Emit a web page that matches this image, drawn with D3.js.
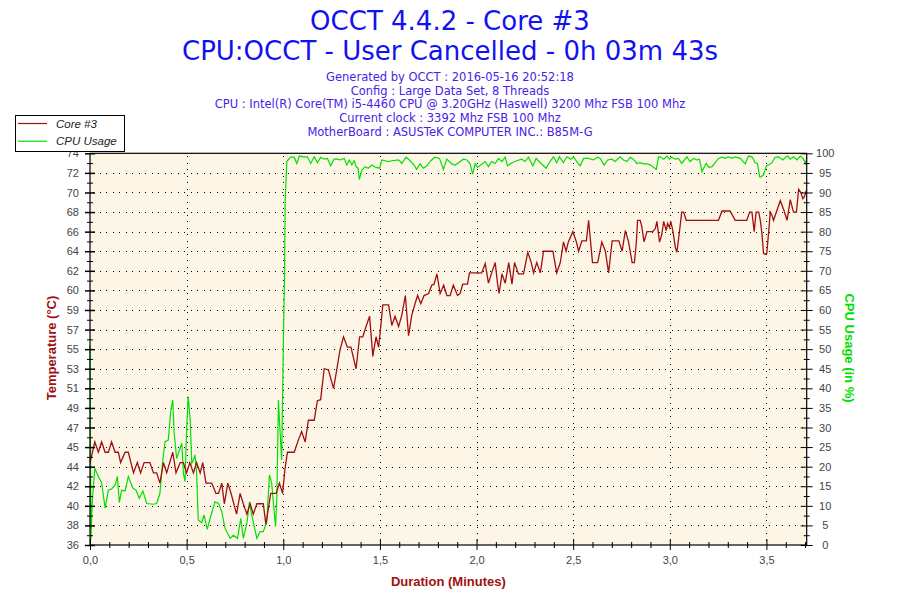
<!DOCTYPE html>
<html>
<head>
<meta charset="utf-8">
<script src="https://cdn.jsdelivr.net/npm/d3@7/dist/d3.min.js"></script>
<style>
  body { margin: 0; background: #fff; }
</style>
</head>
<body>
<svg id="chart"></svg>
<script>
// [seconds, °C]
var coreTemp = [
  [0,44],[1.5,46],[2.6,45],[3.6,46],[4.7,45],[5.7,45],[6.7,46],[7.8,45],[8.8,45],[9.5,44],
  [10.9,45],[11.9,45],[13.5,43],[14.7,44],[15.7,43],[16.8,44],[18.6,44],[19.7,43],[20.7,43],[21.7,42],
  [22.8,44],[23.8,43],[25.7,45],[26.7,43],[28,44],[29,44],[30,43],[31,44],[32.1,43],[33.1,44],
  [34.2,43],[35,44],[36,42],[37.8,42],[39.1,41],[39.9,41],[40.9,42],[41.7,40],[42.8,42],[43.8,41],
  [45.5,39],[46.6,41],[47.6,40],[48.7,39],[49.7,40],[50.7,39],[51.8,40],[53.8,40],[54.6,38],[56.1,41],
  [57.8,41],[58.8,42],[59.8,41],[60.5,43.3],[61.3,45],[63.4,45],[64.7,46.2],[65.7,47],[66.8,46],[67.8,48.1],
  [69.6,48.1],[70.6,50],[71.6,50.1],[72.7,53.1],[74,53],[75.6,51.2],[76.6,53],[77.6,54.9],[78.7,56.2],[79.9,55.2],
  [81,55.2],[82.6,53.1],[83.7,56.2],[84.7,56.2],[85.7,57.2],[86.8,58.2],[87.8,54.3],[88.8,56.2],[89.6,55.2],[90.3,57.3],
  [90.9,59.3],[92.7,59.3],[93.7,57.3],[94.7,58.2],[95.8,57.2],[96.8,58.3],[97.9,60.2],[98.9,56.3],[99.9,58.3],[100.9,59.4],
  [101.7,60.2],[102.7,59.4],[103.7,60.2],[105.1,60.4],[106.1,61.2],[106.8,61.3],[107.7,62.3],[108.7,60.4],[109.8,61.2],[110.8,60.2],
  [111.8,60.2],[112.8,61.2],[114.1,60.2],[114.9,60.4],[115.7,61.3],[117.2,61.3],[117.8,62.4],[121.6,62.4],[122.7,63.3],[123.7,61.4],
  [124.7,62.4],[125.8,63.4],[126.5,61.4],[127,60.4],[127.9,62.3],[128.9,61.4],[130,63.4],[131,61.3],[131.8,63.4],[133,62.3],
  [134.6,62.3],[135.9,64.4],[137,63.4],[137.7,62.4],[138.7,63.4],[139.8,62.4],[140.8,64.5],[143.7,64.5],[144.9,62.4],[146,63.4],
  [147,65.4],[147.8,64.5],[148.5,65.4],[149.9,66.4],[150.9,65.5],[151.7,64.5],[152.7,65.5],[154.1,65.5],[154.8,67.5],[156,63.4],
  [157.6,63.4],[158.9,65.4],[160,64.5],[161,62.4],[162.1,65.5],[164.2,65.5],[165.2,64.5],[166.2,66.5],[167.2,65.4],[168.3,63.4],
  [169,63.4],[169.6,65.3],[170,67.5],[170.8,67.5],[171.3,66.9],[172,65.4],[172.9,66.4],[173.7,66.4],[174.7,66.4],[175.5,66.7],
  [176,67.4],[176.8,65.4],[177.5,66.1],[178.1,67.4],[178.9,66.5],[179.3,67.2],[179.9,66.8],[180.3,67.4],[181,66.4],[181.7,64.9],
  [182.2,64.4],[183,66.4],[183.7,68.3],[184.3,68.3],[185.1,67.5],[195.1,67.5],[196.2,68.4],[198.7,68.4],[200.3,67.5],[203.9,67.5],
  [204.8,68.3],[205.5,68.3],[206.2,66.4],[206.8,68.3],[207.6,68.3],[208.1,67.5],[208.6,66.2],[209.1,64.3],[209.6,64.2],[210.1,64.3],
  [210.7,66.4],[211.2,68.3],[211.7,68],[212.2,67.5],[213.3,68.5],[214.3,69.4],[215.4,68.5],[216.4,67.5],[217.4,69.5],[218.4,68.3],
  [219.3,68.3],[220,70.5],[220.7,70.2],[221.3,69.6],[221.8,69.8],[222.4,70.4]
];

// [seconds, %]
var cpuUsage = [
  [0,51],[0.3,1.5],[0.7,11],[1.5,19.6],[2.6,17.5],[3.6,15.9],[4.7,9.4],[5.7,14],[6.7,14.3],[7.8,15.3],
  [8.5,17.5],[9.1,10.8],[9.8,14],[10.9,13.8],[11.9,17.5],[13.3,14.5],[14.3,14],[15.3,11.9],[16.4,13.8],[17.6,10.6],
  [19.7,10.4],[20.7,10.6],[21.7,13.2],[22.6,21.7],[23.3,26.4],[24.3,26.8],[25.1,34.5],[25.7,37],[26.1,28.9],[26.9,22.1],
  [28.5,26],[29,18.3],[29.5,16.2],[30,29.4],[30.5,37.9],[31.1,31.9],[31.6,20.9],[32.1,21.7],[32.6,23],[33.1,18.3],
  [33.6,6.4],[34.7,5.7],[35.4,7.7],[36.4,4],[37.5,7.4],[38.8,11],[39.9,10.6],[40.9,8.5],[41.9,4.3],[43.5,1.7],
  [44.5,2.5],[45.8,1.7],[46.8,6.8],[47.6,1.7],[48.7,5.5],[49.5,11],[50.2,7.7],[51.8,1.7],[52.8,3.4],[53.8,3.4],
  [54.9,6],[55.7,17.9],[56.4,15.8],[57.6,4.7],[58,12],[58.5,37],[58.8,32],[59.5,21.7],[60,49.8],[60.4,69.4],
  [60.6,88],[61.1,97.9],[62.3,99],[63.4,99],[64.2,97.4],[65,99.3],[66.3,99.1],[67.5,99.1],[68.5,97.4],[69.6,99.1],
  [70.6,97.6],[71.6,99],[72.7,98.5],[73.7,98.7],[74.7,96.8],[75.8,98.5],[76.8,98.5],[77.8,98.3],[78.9,98.7],[79.7,97],
  [80.5,98.3],[81.3,97],[82,98.1],[82.6,96.6],[83.2,96.2],[83.6,93.3],[84.4,95.7],[85.4,96.6],[86.4,96.2],[87.5,97],
  [88.8,96.4],[89.9,96.2],[90.6,98.3],[91.6,98.1],[92.6,97.9],[93.7,98.1],[95.8,98.3],[96.8,97.4],[98.1,99],[99.4,98.1],
  [100.6,97],[101.4,95.9],[102.5,97.3],[103.5,96.2],[104.6,96.8],[105.8,98.1],[107.1,99],[108.5,98.7],[109.7,95.9],[110.8,98.5],
  [112.3,97.3],[113.4,97],[114.4,97.6],[115.9,98.5],[117,98.3],[118,97.3],[118.8,94.7],[119.6,97.4],[120.3,96.4],[121.3,97],
  [122.7,97.9],[123.7,96.6],[124.7,97.9],[125.8,97.4],[126.8,98.7],[127.9,97.9],[128.9,99],[129.6,96.8],[131,97.6],[132.5,98.1],
  [134,98.5],[135.1,97.9],[136.1,99],[137.5,96.8],[138.5,98.7],[139.8,97.6],[141.6,96.2],[142.8,97.9],[143.9,99.1],[144.9,97.6],
  [145.7,99.1],[147,97.6],[148,99.1],[149.3,98.5],[150.1,99.1],[151.1,97.9],[152.2,96.8],[153.2,98.7],[154.8,98.7],[156.3,98.3],
  [157.6,99],[158.4,98.7],[159.6,97],[160.7,98.3],[162,98.5],[163,97.9],[164.6,99.1],[165.6,98.3],[166.7,97.9],[167.7,99],
  [168.7,98.5],[169.8,97.4],[170.8,97.6],[171.8,97.3],[172.9,97.3],[174.1,97],[175.8,95.9],[176.5,99.1],[177,99.1],[178.1,98.5],
  [179.1,99.3],[179.9,98.5],[180.6,99],[181.7,98.5],[182.7,98.7],[183.7,97.4],[185.3,99.1],[186.3,97.9],[187.4,98.7],[188.4,98.3],
  [189.2,98.5],[190,95.3],[190.5,96.2],[191.3,97.4],[192.1,96.4],[193.1,96.6],[194.1,97.6],[195.1,98.7],[196.2,99],[197.2,98.7],
  [198.2,99.1],[199.3,98.7],[200.3,99.1],[201.9,98.7],[203.4,97.3],[204.4,99.3],[205.5,99.1],[206.5,97.6],[207.2,97.4],[207.9,94],
  [208.3,94],[209.1,94.5],[210,96.8],[210.7,97],[211.7,97.6],[212.7,99],[213.8,99.1],[215.1,98.3],[215.9,99],[216.6,99.3],
  [217.4,98.5],[218.4,99.1],[219.5,98.3],[220.5,99.3],[221.4,98.7],[222.1,97.4],[222.6,99]
];

var tempTickLabels = [36, 38, 40, 42, 44, 45, 47, 49, 51, 53, 55, 57, 59, 60, 62, 64, 66, 68, 70, 72, 74];
var cpuTickLabels = [0, 5, 10, 15, 20, 25, 30, 35, 40, 45, 50, 55, 60, 65, 70, 75, 80, 85, 90, 95, 100];
var minuteTicks = [0, 0.5, 1, 1.5, 2, 2.5, 3, 3.5];
var minuteTickLabels = ["0,0", "0,5", "1,0", "1,5", "2,0", "2,5", "3,0", "3,5"];

var titleLines = ["OCCT 4.4.2 - Core #3", "CPU:OCCT - User Cancelled - 0h 03m 43s"];
var infoLines = [
  "Generated by OCCT : 2016-05-16 20:52:18",
  "Config : Large Data Set, 8 Threads",
  "CPU : Intel(R) Core(TM) i5-4460 CPU @ 3.20GHz (Haswell) 3200 Mhz FSB 100 Mhz",
  "Current clock : 3392 Mhz FSB 100 Mhz",
  "MotherBoard : ASUSTeK COMPUTER INC.: B85M-G"
];
var seriesNames = ["Core #3", "CPU Usage"];

var width = 900, height = 600;
var plotLeft = 90, plotRight = 806.7, plotTop = 153.3, plotBottom = 545;
var durationMinutes = 222.5 / 60;
var redColor = "#a01010", greenColor = "#00e000";
var tickFont = "'Liberation Sans', Arial, sans-serif";

var svg = d3.select("#chart")
  .attr("width", width)
  .attr("height", height);

var x = d3.scaleLinear().domain([0, durationMinutes]).range([plotLeft, plotRight]);
var yTemp = d3.scaleLinear().domain([36, 74]).range([plotBottom, plotTop]);
var yCpu = d3.scaleLinear().domain([0, 100]).range([plotBottom, plotTop]);

// temperature ticks are 21 even steps over the axis
var tempStep = (74 - 36) / (tempTickLabels.length - 1);
var tempTicks = tempTickLabels.map(function (d, i) { return 36 + i * tempStep; });
var tempMinor = tempTicks.slice(1).map(function (d) { return d - tempStep / 2; });
var cpuMinor = cpuTickLabels.slice(1).map(function (d) { return d - 2.5; });
var minuteMinor = d3.range(0, 38).map(function (i) { return i / 10; })
  .filter(function (d) { return d <= durationMinutes && Math.round(d * 10) % 5 !== 0; });

// plot background
svg.append("rect")
  .attr("x", plotLeft)
  .attr("y", plotTop)
  .attr("width", plotRight - plotLeft)
  .attr("height", plotBottom - plotTop)
  .style("fill", "#fdf6e7");

// dotted grid
var grid = svg.append("g")
  .attr("class", "grid")
  .style("stroke", "#000")
  .style("stroke-width", 1)
  .style("stroke-dasharray", "1,5.5")
  .style("shape-rendering", "crispEdges");

grid.selectAll("line.h")
  .data(cpuTickLabels.slice(1, -1))
  .enter().append("line")
    .attr("class", "h")
    .attr("x1", plotLeft + 3)
    .attr("x2", plotRight)
    .attr("y1", function (d) { return Math.round(yCpu(d)) + 0.5; })
    .attr("y2", function (d) { return Math.round(yCpu(d)) + 0.5; });

grid.selectAll("line.v")
  .data(minuteTicks.slice(1))
  .enter().append("line")
    .attr("class", "v")
    .attr("x1", function (d) { return Math.round(x(d)) + 0.5; })
    .attr("x2", function (d) { return Math.round(x(d)) + 0.5; })
    .attr("y1", plotTop + 3)
    .attr("y2", plotBottom);

// series
var tempLine = d3.line()
  .x(function (d) { return x(d[0] / 60); })
  .y(function (d) { return yTemp(d[1]); });

var cpuLine = d3.line()
  .x(function (d) { return x(d[0] / 60); })
  .y(function (d) { return yCpu(d[1]); });

svg.append("path")
  .datum(cpuUsage)
  .attr("d", cpuLine)
  .style("fill", "none")
  .style("stroke", greenColor)
  .style("stroke-width", 1.2);

svg.append("path")
  .datum(coreTemp)
  .attr("d", tempLine)
  .style("fill", "none")
  .style("stroke", redColor)
  .style("stroke-width", 1.3);

// frame
svg.append("rect")
  .attr("x", plotLeft)
  .attr("y", plotTop)
  .attr("width", plotRight - plotLeft)
  .attr("height", plotBottom - plotTop)
  .style("fill", "none")
  .style("stroke", "#000")
  .style("stroke-width", 1.2);

function styleAxis(g) {
  g.select(".domain").remove();
  g.attr("font-family", tickFont).attr("font-size", 11);
  g.selectAll(".tick text").attr("fill", "#444");
  g.selectAll(".tick line").attr("stroke", "#000");
}

// left axis
var leftAxis = svg.append("g")
  .attr("transform", "translate(" + plotLeft + ",0)")
  .call(d3.axisLeft(yTemp)
    .tickValues(tempTicks)
    .tickSize(5)
    .tickPadding(6)
    .tickFormat(function (d, i) { return tempTickLabels[i]; }))
  .call(styleAxis);
leftAxis.selectAll(".tick line").attr("x1", 5).attr("stroke-width", 1.5);

var leftMinor = svg.append("g")
  .attr("transform", "translate(" + plotLeft + ",0)")
  .call(d3.axisLeft(yTemp).tickValues(tempMinor).tickSize(3).tickFormat(""))
  .call(styleAxis);
leftMinor.selectAll(".tick line").attr("x1", 3);

// right axis
var rightAxis = svg.append("g")
  .attr("transform", "translate(" + plotRight + ",0)")
  .call(d3.axisRight(yCpu)
    .tickValues(cpuTickLabels)
    .tickSize(6)
    .tickPadding(12)
    .tickFormat(function (d) { return d; }))
  .call(styleAxis);
rightAxis.selectAll(".tick line").attr("x1", -6);
rightAxis.selectAll(".tick text").attr("text-anchor", "middle").attr("x", 18.5);

var rightMinor = svg.append("g")
  .attr("transform", "translate(" + plotRight + ",0)")
  .call(d3.axisRight(yCpu).tickValues(cpuMinor).tickSize(3).tickFormat(""))
  .call(styleAxis);
rightMinor.selectAll(".tick line").attr("x1", -3);

// bottom axis
var bottomAxis = svg.append("g")
  .attr("transform", "translate(0," + plotBottom + ")")
  .call(d3.axisBottom(x)
    .tickValues(minuteTicks)
    .tickSize(5)
    .tickPadding(6)
    .tickFormat(function (d, i) { return minuteTickLabels[i]; }))
  .call(styleAxis);
bottomAxis.selectAll(".tick line").attr("y1", -6);

var bottomMinor = svg.append("g")
  .attr("transform", "translate(0," + plotBottom + ")")
  .call(d3.axisBottom(x).tickValues(minuteMinor).tickSize(3).tickFormat(""))
  .call(styleAxis);
bottomMinor.selectAll(".tick line").attr("y1", -3);

// axis titles
svg.append("text")
  .attr("x", (plotLeft + plotRight) / 2)
  .attr("y", 585.5)
  .attr("text-anchor", "middle")
  .style("font-family", tickFont)
  .style("font-size", "13px")
  .style("font-weight", "bold")
  .style("fill", redColor)
  .text("Duration (Minutes)");

svg.append("text")
  .attr("transform", "translate(56,348) rotate(-90)")
  .attr("text-anchor", "middle")
  .style("font-family", tickFont)
  .style("font-size", "13px")
  .style("font-weight", "bold")
  .style("fill", redColor)
  .text("Temperature (°C)");

svg.append("text")
  .attr("transform", "translate(845,348) rotate(90)")
  .attr("text-anchor", "middle")
  .style("font-family", tickFont)
  .style("font-size", "13px")
  .style("font-weight", "bold")
  .style("fill", greenColor)
  .text("CPU Usage (in %)");

// titles
svg.selectAll("text.title")
  .data(titleLines)
  .enter().append("text")
    .attr("class", "title")
    .attr("x", 450)
    .attr("y", function (d, i) { return 29.5 + i * 30.5; })
    .attr("text-anchor", "middle")
    .style("font-family", "'DejaVu Sans', Verdana, sans-serif")
    .style("font-size", "26px")
    .style("fill", "#1212f0")
    .text(function (d) { return d; });

svg.selectAll("text.info")
  .data(infoLines)
  .enter().append("text")
    .attr("class", "info")
    .attr("x", 450)
    .attr("y", function (d, i) { return 81 + i * 13.7; })
    .attr("text-anchor", "middle")
    .style("font-family", "'DejaVu Sans', Verdana, sans-serif")
    .style("font-size", "11.5px")
    .style("fill", "#4a20e8")
    .text(function (d) { return d; });

// legend
var legend = svg.append("g").attr("class", "legend");

legend.append("rect")
  .attr("x", 15.5)
  .attr("y", 115.5)
  .attr("width", 109)
  .attr("height", 36)
  .style("fill", "#fff")
  .style("stroke", "#000");

var legendItems = legend.selectAll("g.item")
  .data(seriesNames)
  .enter().append("g")
    .attr("class", "item")
    .attr("transform", function (d, i) { return "translate(0," + (123.5 + i * 17.7) + ")"; });

legendItems.append("line")
  .attr("x1", 18)
  .attr("x2", 47)
  .style("stroke", function (d, i) { return i === 0 ? redColor : greenColor; })
  .style("stroke-width", 1.2);

legendItems.append("text")
  .attr("x", 56)
  .attr("y", 4)
  .style("font-family", tickFont)
  .style("font-size", "11.5px")
  .style("font-style", "italic")
  .style("fill", "#222")
  .text(function (d) { return d; });
</script>
</body>
</html>
